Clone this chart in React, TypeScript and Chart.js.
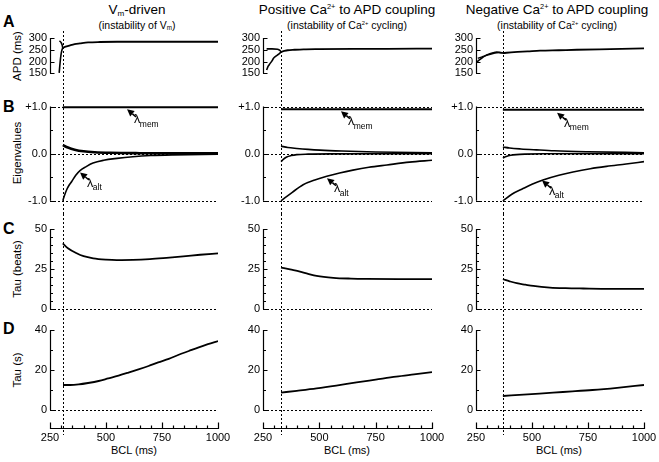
import React, { useEffect, useRef } from 'react';
import { Chart, registerables } from 'chart.js';
Chart.register(...registerables);

const FONT = '"Liberation Sans", Arial, Helvetica, sans-serif';

// ---------------- DATA ----------------
// Row A: APD (ms)
const A1_LONG_BCL = [292, 296, 300, 304, 307];
const A1_LONG_APD = [287, 285, 280, 271, 258];
const A1_SHORT_BCL = [291, 295, 299, 303, 307];
const A1_SHORT_APD = [152, 195, 228, 248, 258];
const A1_MAIN_BCL = [307, 320, 340, 360, 384, 420, 473, 550, 700, 850, 1000];
const A1_MAIN_APD = [258, 263, 269, 274, 277, 281, 283, 284, 284, 284, 284];

const A2_LONG_BCL = [266, 290, 315, 325, 330];
const A2_LONG_APD = [254, 254, 252, 247, 241];
const A2_SHORT_BCL = [266, 273, 281, 290, 296, 306, 318, 330];
const A2_SHORT_APD = [164, 180, 191, 203, 213, 222, 230, 240];
const A2_MAIN_BCL = [330, 345, 360, 390, 430, 500, 650, 800, 1000];
const A2_MAIN_APD = [241, 245, 248, 250, 252, 253, 254, 254, 255];

const A3_B1_BCL = [252, 268, 283, 298, 312, 327, 342, 356, 370];
const A3_B1_APD = [196, 209, 220, 228, 233, 237, 240, 239, 236];
const A3_B2_BCL = [258, 275, 290, 310, 330, 350, 370];
const A3_B2_APD = [214, 219, 224, 230, 235, 238, 236];
const A3_MAIN_BCL = [370, 420, 480, 536, 620, 700, 850, 1000];
const A3_MAIN_APD = [236, 240, 243, 246, 248, 250, 253, 256];

// Row B: eigenvalues
const B1_MEM_BCL = [307, 1000];
const B1_MEM_VAL = [0.982, 0.982];
const B1_UP_BCL = [307, 330, 360, 400, 450, 520, 650, 800, 1000];
const B1_UP_VAL = [0.18, 0.13, 0.085, 0.05, 0.03, 0.018, 0.01, 0.007, 0.005];
const B1_ALT_BCL = [307, 315, 325, 335, 347, 365, 384, 410, 442, 490, 549, 620, 700, 800, 1000];
const B1_ALT_VAL = [-1.0, -0.88, -0.76, -0.67, -0.59, -0.46, -0.36, -0.28, -0.2, -0.14, -0.1, -0.065, -0.04, -0.025, -0.01];

const B2_MEM_BCL = [330, 1000];
const B2_MEM_VAL = [0.94, 0.94];
const B2_UP_BCL = [330, 360, 400, 450, 503, 600, 750, 1000];
const B2_UP_VAL = [0.16, 0.13, 0.11, 0.09, 0.074, 0.055, 0.035, 0.02];
const B2_LO_BCL = [330, 340, 355, 375, 400, 450, 550, 1000];
const B2_LO_VAL = [-0.17, -0.12, -0.07, -0.04, -0.02, -0.01, -0.004, 0];
const B2_ALT_BCL = [330, 380, 428, 480, 533, 590, 649, 720, 800, 900, 1000];
const B2_ALT_VAL = [-1.0, -0.82, -0.66, -0.56, -0.48, -0.41, -0.35, -0.29, -0.24, -0.18, -0.14];

const B3_MEM_BCL = [370, 1000];
const B3_MEM_VAL = [0.93, 0.93];
const B3_UP_BCL = [370, 400, 450, 520, 600, 750, 1000];
const B3_UP_VAL = [0.14, 0.12, 0.1, 0.08, 0.06, 0.04, 0.02];
const B3_LO_BCL = [370, 385, 405, 430, 470, 550, 1000];
const B3_LO_VAL = [-0.09, -0.06, -0.035, -0.02, -0.01, -0.003, 0];
const B3_ALT_BCL = [370, 410, 460, 500, 549, 620, 683, 760, 833, 920, 1000];
const B3_ALT_VAL = [-1.0, -0.86, -0.74, -0.65, -0.56, -0.46, -0.39, -0.32, -0.27, -0.22, -0.17];

// Row C: Tau (beats)
const C1_BCL = [307, 330, 369, 400, 443, 500, 548, 620, 696, 770, 845, 920, 1000];
const C1_VAL = [41, 38, 34.8, 33, 31.7, 30.9, 30.6, 30.7, 31.2, 32, 32.9, 33.9, 34.8];
const C2_BCL = [330, 370, 414, 450, 488, 562, 640, 710, 850, 1000];
const C2_VAL = [25.9, 24.7, 23.4, 22, 20.7, 19.5, 19.0, 18.8, 18.7, 18.7];
const C3_BCL = [370, 400, 432, 470, 506, 580, 650, 729, 850, 1000];
const C3_VAL = [18.6, 17.3, 16.1, 15.2, 14.4, 13.4, 13.0, 12.8, 12.6, 12.6];

// Row D: Tau (s)
const D1_BCL = [308, 340, 378, 420, 467, 510, 556, 600, 645, 690, 733, 780, 822, 870, 911, 955, 1000];
const D1_VAL = [12.5, 12.5, 12.8, 13.5, 14.5, 15.8, 17.2, 18.7, 20.3, 22, 23.8, 25.6, 27.5, 29.5, 31.2, 32.9, 34.5];
const D2_BCL = [330, 400, 488, 575, 665, 750, 841, 920, 1000];
const D2_VAL = [8.7, 9.6, 10.8, 12.2, 13.8, 15.2, 16.7, 17.8, 18.9];
const D3_BCL = [370, 480, 594, 680, 770, 880, 1000];
const D3_VAL = [7.0, 7.8, 8.7, 9.3, 10.0, 11.1, 12.5];

// Bifurcation (dotted vertical line) BCL per column
const ONSET_BCL = [307, 330, 370];

// Tick values
const X_LABELS = [250, 500, 750, 1000];
const X_MINOR = [300, 350, 400, 450, 550, 600, 650, 700, 800, 850, 900, 950];
const A_LABELS = [150, 200, 250, 300];
const A_MINOR: number[] = [];
const B_LABELS = [-1, 0, 1];
const B_MINOR = [-0.5, 0.5];
const C_LABELS = [0, 25, 50];
const C_MINOR = [5, 10, 15, 20, 30, 35, 40, 45];
const D_LABELS = [0, 20, 40];
const D_MINOR = [10, 30];
const B_HLINES = [1, 0, -1];
const ZERO_HLINE = [0];

// annotation anchor points (BCL, eigenvalue)
const NOTE_MEM_BCL = [594, 596, 612];
const NOTE_MEM_VAL = [0.94, 0.9, 0.87];
const NOTE_ALT_BCL = [384, 534, 545];
const NOTE_ALT_VAL = [-0.4, -0.52, -0.57];

// ---------------- LAYOUT ----------------
const COLS = [
  { left: 22, axis: 50, end: 218, right: 236 },
  { left: 228, axis: 263, end: 432, right: 450 },
  { left: 442, axis: 476, end: 644, right: 659 },
];
const ROWS = [
  { top: 31, bottom: 92, plotBottom: 92, v1: 300, p1: 38, v2: 150, p2: 73.3 },
  { top: 92, bottom: 214, plotBottom: 214, v1: 1, p1: 106.5, v2: -1, p2: 200.8 },
  { top: 214, bottom: 318, plotBottom: 318, v1: 50, p1: 229, v2: 0, p2: 309 },
  { top: 318, bottom: 462, plotBottom: 428, v1: 40, p1: 330, v2: 0, p2: 410 },
];

type Line = { bcl: number[]; val: number[]; width: number };
type Note = { bcl: number; val: number; sub: string };
type PanelCfg = {
  key: string;
  col: number;
  row: number;
  labels: number[];
  minor: number[];
  fmt: (v: number) => string;
  hLines: number[];
  lines: Line[];
  notes: Note[];
};

const fmtInt = (v: number) => String(v);
const fmtEig = (v: number) => (v > 0 ? '+' + v.toFixed(1) : v.toFixed(1));

const A_LINES: Line[][] = [
  [
    { bcl: A1_LONG_BCL, val: A1_LONG_APD, width: 1.6 },
    { bcl: A1_SHORT_BCL, val: A1_SHORT_APD, width: 1.6 },
    { bcl: A1_MAIN_BCL, val: A1_MAIN_APD, width: 1.8 },
  ],
  [
    { bcl: A2_LONG_BCL, val: A2_LONG_APD, width: 1.6 },
    { bcl: A2_SHORT_BCL, val: A2_SHORT_APD, width: 1.6 },
    { bcl: A2_MAIN_BCL, val: A2_MAIN_APD, width: 1.8 },
  ],
  [
    { bcl: A3_B1_BCL, val: A3_B1_APD, width: 1.6 },
    { bcl: A3_B2_BCL, val: A3_B2_APD, width: 1.4 },
    { bcl: A3_MAIN_BCL, val: A3_MAIN_APD, width: 1.8 },
  ],
];
const B_LINES: Line[][] = [
  [
    { bcl: B1_MEM_BCL, val: B1_MEM_VAL, width: 2 },
    { bcl: B1_UP_BCL, val: B1_UP_VAL, width: 2.6 },
    { bcl: B1_ALT_BCL, val: B1_ALT_VAL, width: 1.6 },
  ],
  [
    { bcl: B2_MEM_BCL, val: B2_MEM_VAL, width: 2 },
    { bcl: B2_UP_BCL, val: B2_UP_VAL, width: 1.6 },
    { bcl: B2_LO_BCL, val: B2_LO_VAL, width: 1.6 },
    { bcl: B2_ALT_BCL, val: B2_ALT_VAL, width: 1.6 },
  ],
  [
    { bcl: B3_MEM_BCL, val: B3_MEM_VAL, width: 2 },
    { bcl: B3_UP_BCL, val: B3_UP_VAL, width: 1.6 },
    { bcl: B3_LO_BCL, val: B3_LO_VAL, width: 1.6 },
    { bcl: B3_ALT_BCL, val: B3_ALT_VAL, width: 1.6 },
  ],
];
const C_LINES: Line[][] = [
  [{ bcl: C1_BCL, val: C1_VAL, width: 1.8 }],
  [{ bcl: C2_BCL, val: C2_VAL, width: 1.8 }],
  [{ bcl: C3_BCL, val: C3_VAL, width: 1.8 }],
];
const D_LINES: Line[][] = [
  [{ bcl: D1_BCL, val: D1_VAL, width: 1.8 }],
  [{ bcl: D2_BCL, val: D2_VAL, width: 1.8 }],
  [{ bcl: D3_BCL, val: D3_VAL, width: 1.8 }],
];

const PANELS: PanelCfg[] = [];
for (let c = 0; c < 3; c++) {
  PANELS.push({ key: 'A' + c, col: c, row: 0, labels: A_LABELS, minor: A_MINOR, fmt: fmtInt, hLines: [], lines: A_LINES[c], notes: [] });
  PANELS.push({
    key: 'B' + c, col: c, row: 1, labels: B_LABELS, minor: B_MINOR, fmt: fmtEig, hLines: B_HLINES, lines: B_LINES[c],
    notes: [
      { bcl: NOTE_MEM_BCL[c], val: NOTE_MEM_VAL[c], sub: 'mem' },
      { bcl: NOTE_ALT_BCL[c], val: NOTE_ALT_VAL[c], sub: 'alt' },
    ],
  });
  PANELS.push({ key: 'C' + c, col: c, row: 2, labels: C_LABELS, minor: C_MINOR, fmt: fmtInt, hLines: ZERO_HLINE, lines: C_LINES[c], notes: [] });
  PANELS.push({ key: 'D' + c, col: c, row: 3, labels: D_LABELS, minor: D_MINOR, fmt: fmtInt, hLines: ZERO_HLINE, lines: D_LINES[c], notes: [] });
}

function Panel({ cfg }: { cfg: PanelCfg }) {
  const ref = useRef<HTMLCanvasElement>(null);
  const col = COLS[cfg.col];
  const row = ROWS[cfg.row];
  const width = col.right - col.left;
  const height = row.bottom - row.top;
  const isBottom = cfg.row === 3;

  useEffect(() => {
    const k = (row.p2 - row.p1) / (row.v1 - row.v2);
    const yMax = row.v1 + (row.p1 - row.top) / k;
    const yMin = row.v2 - (row.plotBottom - row.p2) / k;
    const padL = col.axis - col.left;
    const padR = col.right - col.end;
    const xAxisH = row.bottom - row.plotBottom;
    const onset = ONSET_BCL[cfg.col];

    const decor = {
      id: 'decor',
      beforeDatasetsDraw(chart: any) {
        const { ctx, chartArea } = chart;
        const x = chart.scales.x;
        const y = chart.scales.y;
        ctx.save();
        ctx.strokeStyle = '#000';
        ctx.lineWidth = 1;
        ctx.setLineDash([2, 2]);
        for (const v of cfg.hLines) {
          const py = Math.round(y.getPixelForValue(v)) + 0.5;
          ctx.beginPath();
          ctx.moveTo(chartArea.left, py);
          ctx.lineTo(chartArea.right, py);
          ctx.stroke();
        }
        const px = Math.round(x.getPixelForValue(onset)) + 0.5;
        ctx.beginPath();
        ctx.moveTo(px, 0);
        ctx.lineTo(px, isBottom ? chartArea.bottom + 7 : chart.height);
        ctx.stroke();
        ctx.restore();
      },
      afterDraw(chart: any) {
        const { ctx, chartArea } = chart;
        const x = chart.scales.x;
        const y = chart.scales.y;
        ctx.save();
        ctx.setLineDash([]);
        ctx.strokeStyle = '#000';
        ctx.fillStyle = '#000';
        ctx.lineWidth = 1.2;
        // y axis bracket
        const ax = Math.round(chartArea.left) + 0.5;
        const yTop = y.getPixelForValue(cfg.labels[cfg.labels.length - 1]);
        const yBot = y.getPixelForValue(cfg.labels[0]);
        ctx.beginPath();
        ctx.moveTo(ax, yTop);
        ctx.lineTo(ax, yBot);
        for (const v of cfg.labels) {
          const py = Math.round(y.getPixelForValue(v)) + 0.5;
          ctx.moveTo(ax - 0.5, py);
          ctx.lineTo(ax + 4, py);
        }
        for (const v of cfg.minor) {
          const py = Math.round(y.getPixelForValue(v)) + 0.5;
          ctx.moveTo(ax, py);
          ctx.lineTo(ax + 2.5, py);
        }
        ctx.stroke();
        // x axis (bottom row only)
        if (isBottom) {
          const ay = Math.round(chartArea.bottom) + 0.5;
          ctx.beginPath();
          ctx.moveTo(x.getPixelForValue(X_LABELS[0]), ay);
          ctx.lineTo(x.getPixelForValue(X_LABELS[X_LABELS.length - 1]), ay);
          for (const v of X_LABELS) {
            const px = Math.round(x.getPixelForValue(v)) + 0.5;
            ctx.moveTo(px, ay + 0.5);
            ctx.lineTo(px, ay - 6);
          }
          for (const v of X_MINOR) {
            const px = Math.round(x.getPixelForValue(v)) + 0.5;
            ctx.moveTo(px, ay);
            ctx.lineTo(px, ay - 3);
          }
          ctx.stroke();
        }
        // lambda annotations
        for (const n of cfg.notes) {
          const hx = x.getPixelForValue(n.bcl);
          const hy = y.getPixelForValue(n.val);
          const tx = hx + 9;
          const ty = hy + 7.5;
          const ang = Math.atan2(hy - ty, hx - tx);
          const hl = 7;
          const hw = 3.5;
          const bx = hx - Math.cos(ang) * hl;
          const by = hy - Math.sin(ang) * hl;
          ctx.lineWidth = 1.6;
          ctx.beginPath();
          ctx.moveTo(tx, ty);
          ctx.lineTo(bx, by);
          ctx.stroke();
          ctx.beginPath();
          ctx.moveTo(hx, hy);
          ctx.lineTo(bx - Math.sin(ang) * hw, by + Math.cos(ang) * hw);
          ctx.lineTo(bx + Math.sin(ang) * hw, by - Math.cos(ang) * hw);
          ctx.closePath();
          ctx.fill();
          ctx.font = `12.5px ${FONT}`;
          ctx.textBaseline = 'alphabetic';
          ctx.textAlign = 'left';
          ctx.fillText('λ', hx + 7, hy + 14);
          const lw = ctx.measureText('λ').width;
          ctx.font = `8.5px ${FONT}`;
          ctx.fillText(n.sub, hx + 7 + lw - 0.5, hy + 17.5);
        }
        ctx.restore();
      },
    };

    const datasets = cfg.lines.map((l) => ({
      data: l.bcl.map((b, i) => ({ x: b, y: l.val[i] })),
      borderColor: '#000',
      borderWidth: l.width,
      pointRadius: 0,
      fill: false,
      cubicInterpolationMode: 'monotone' as const,
    }));

    const chart = new Chart(ref.current!, {
      type: 'line',
      data: { datasets },
      options: {
        responsive: false,
        maintainAspectRatio: false,
        animation: false,
        events: [],
        layout: { padding: { left: 0, right: padR, top: 0, bottom: 0 } },
        plugins: { legend: { display: false }, tooltip: { enabled: false } },
        scales: {
          x: {
            type: 'linear',
            min: 250,
            max: 1000,
            display: isBottom,
            grid: { display: false, drawTicks: false },
            border: { display: false },
            ticks: {
              padding: 3,
              autoSkip: false,
              maxRotation: 0,
              color: '#000',
              font: { family: FONT, size: 11 },
              callback: (v: any) => String(v),
            },
            afterBuildTicks: (s: any) => {
              s.ticks = X_LABELS.map((v) => ({ value: v }));
            },
            afterFit: (s: any) => {
              s.height = xAxisH;
              s.paddingLeft = 0;
              s.paddingRight = 0;
            },
          },
          y: {
            type: 'linear',
            min: yMin,
            max: yMax,
            grid: { display: false, drawTicks: false },
            border: { display: false },
            ticks: {
              padding: 3,
              autoSkip: false,
              color: '#000',
              font: { family: FONT, size: 11 },
              callback: (v: any) => cfg.fmt(Number(v)),
            },
            afterBuildTicks: (s: any) => {
              s.ticks = cfg.labels.map((v) => ({ value: v }));
            },
            afterFit: (s: any) => {
              s.width = padL;
              s.paddingTop = 0;
              s.paddingBottom = 0;
            },
          },
        },
      } as any,
      plugins: [decor],
    });
    return () => chart.destroy();
  }, []);

  return (
    <canvas
      ref={ref}
      width={width}
      height={height}
      style={{ position: 'absolute', left: col.left, top: row.top, width, height, display: 'block' }}
    />
  );
}

const subStyle: React.CSSProperties = { fontSize: '0.6em', verticalAlign: 'baseline', position: 'relative', top: '0.3em' };
const supStyle: React.CSSProperties = { fontSize: '0.55em', verticalAlign: 'baseline', position: 'relative', top: '-0.65em' };

const COL_TITLE_X = [137, 347, 557];
const BCL_LABEL_X = [134, 347, 559];

function abs(left: number, top: number, extra: React.CSSProperties = {}): React.CSSProperties {
  return { position: 'absolute', left, top, whiteSpace: 'nowrap', ...extra };
}

export default function App() {
  const mains = [
    <>V<span style={subStyle}>m</span>-driven</>,
    <>Positive Ca<span style={supStyle}>2+</span> to APD coupling</>,
    <>Negative Ca<span style={supStyle}>2+</span> to APD coupling</>,
  ];
  const subs = [
    <>(instability of V<span style={subStyle}>m</span>)</>,
    <>(instability of Ca<span style={supStyle}>2+</span> cycling)</>,
    <>(instability of Ca<span style={supStyle}>2+</span> cycling)</>,
  ];
  const letters = [
    { t: 'A', y: 22 },
    { t: 'B', y: 107 },
    { t: 'C', y: 229 },
    { t: 'D', y: 329 },
  ];
  const yTitles = [
    { t: 'APD (ms)', y: 56 },
    { t: 'Eigenvalues', y: 153 },
    { t: 'Tau (beats)', y: 269 },
    { t: 'Tau (s)', y: 370 },
  ];
  return (
    <div
      style={{
        position: 'absolute', left: 0, top: 0, width: 659, height: 462, background: '#fff',
        fontFamily: FONT, color: '#000', overflow: 'hidden',
      }}
    >
      {mains.map((m, i) => (
        <div key={'m' + i} style={abs(COL_TITLE_X[i], 3, { transform: 'translateX(-50%)', fontSize: 13.5, lineHeight: '14px' })}>{m}</div>
      ))}
      {subs.map((m, i) => (
        <div key={'s' + i} style={abs(COL_TITLE_X[i], 18.5, { transform: 'translateX(-50%)', fontSize: 10.5, lineHeight: '12px' })}>{m}</div>
      ))}
      {letters.map((l) => (
        <div key={l.t} style={abs(3, l.y - 9, { fontSize: 16, fontWeight: 'bold', lineHeight: '18px' })}>{l.t}</div>
      ))}
      {yTitles.map((l) => (
        <div
          key={l.t}
          style={abs(17, l.y, { fontSize: 11.5, lineHeight: '13px', transform: 'translate(-50%, -50%) rotate(-90deg)' })}
        >
          {l.t}
        </div>
      ))}
      {BCL_LABEL_X.map((x, i) => (
        <div key={'b' + i} style={abs(x, 444, { transform: 'translateX(-50%)', fontSize: 11, lineHeight: '13px' })}>BCL (ms)</div>
      ))}
      {PANELS.map((p) => (
        <Panel key={p.key} cfg={p} />
      ))}
    </div>
  );
}
